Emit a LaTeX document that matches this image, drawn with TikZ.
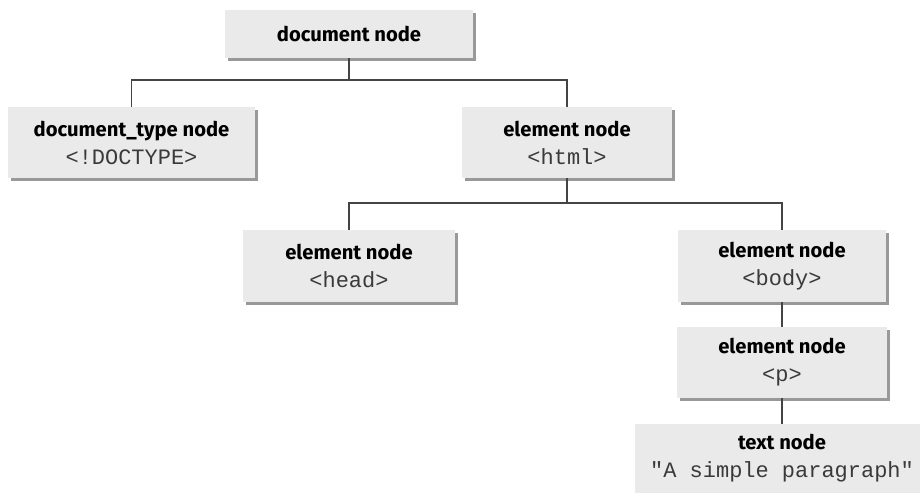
\documentclass[tikz,border=0pt]{standalone}
\usepackage{fontspec}
\setmainfont{Fira Sans}
\newfontfamily\codefont{Liberation Mono}
\usetikzlibrary{shadows}
\definecolor{boxgray}{HTML}{EAEAEA}
\definecolor{shadowgray}{HTML}{999999}
\definecolor{linegray}{HTML}{444444}
\definecolor{codegray}{HTML}{3A3A3A}
\tikzset{
  domnode/.style={fill=boxgray, align=center, inner sep=0pt,
    font=\fontsize{11.5}{16}\selectfont},
  shadowed/.style={drop shadow={shadow xshift=0.06cm, shadow yshift=-0.06cm,
    fill=shadowgray, opacity=1}},
  link/.style={draw=linegray, line width=0.75pt}
}
\newcommand{\domlabel}[2]{{\bfseries #1}\\{\codefont\fontsize{12.5}{16}\selectfont\color{codegray}#2}}
\begin{document}
\begin{tikzpicture}
  \useasboundingbox (0,0) rectangle (18.4,-9.9);
  %Knoten
  \node[domnode, shadowed, minimum width=4.96cm, minimum height=0.96cm] (doc) at (6.98,-0.68) {\bfseries document node};
  \node[domnode, shadowed, minimum width=4.94cm, minimum height=1.42cm] (dtype) at (2.63,-2.85) {\domlabel{document\_type node}{<!DOCTYPE>}};
  \node[domnode, shadowed, minimum width=4.2cm, minimum height=1.42cm] (html) at (11.34,-2.85) {\domlabel{element node}{<html>}};
  \node[domnode, shadowed, minimum width=4.24cm, minimum height=1.44cm] (head) at (6.98,-5.32) {\domlabel{element node}{<head>}};
  \node[domnode, shadowed, minimum width=4.16cm, minimum height=1.44cm] (body) at (15.64,-5.32) {\domlabel{element node}{<body>}};
  \node[domnode, shadowed, minimum width=4.2cm, minimum height=1.42cm] (p) at (15.64,-7.25) {\domlabel{element node}{<p>}};
  \node[domnode, minimum width=5.88cm, minimum height=1.38cm] (txt) at (15.64,-9.17) {\domlabel{text node}{"A simple paragraph"}};
  %Verbindungen
  \coordinate (bus1) at (6.98,-1.6);
  \coordinate (bus2) at (11.34,-4.06);
  \draw[link] (doc.south) -- (bus1);
  \draw[link] (dtype.north) |- (bus1) -| (html.north);
  \draw[link] (html.south) -- (bus2);
  \draw[link] (head.north) |- (bus2) -| (body.north);
  \draw[link] (body.south) -- (p.north);
  \draw[link] (p.south) -- (txt.north);
\end{tikzpicture}
\end{document}
